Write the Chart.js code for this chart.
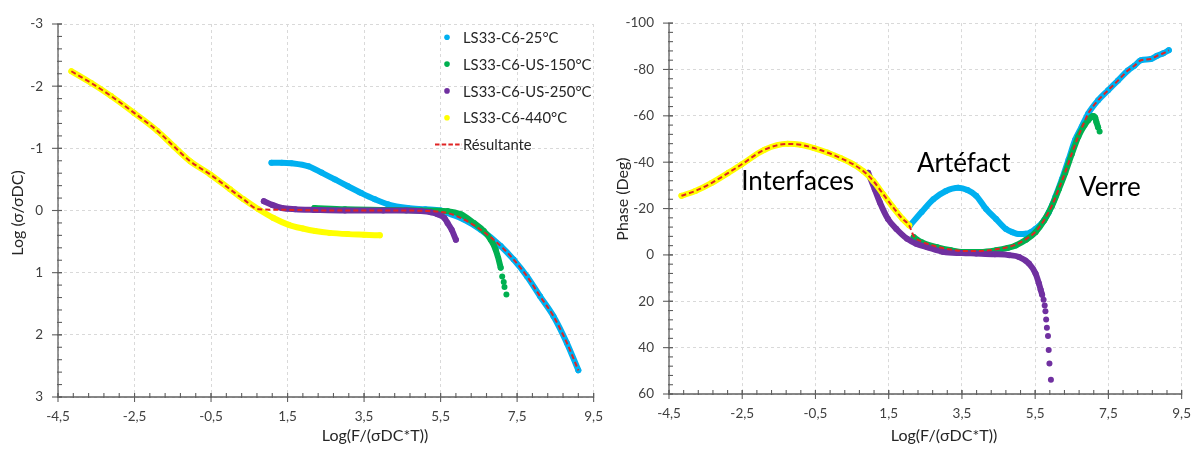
<!DOCTYPE html>
<html><head><meta charset="utf-8">
<script src="https://cdn.jsdelivr.net/npm/chart.js@4.4.1/dist/chart.umd.min.js"></script>
<style>
html,body{margin:0;padding:0;background:#fff;}
#wrap{position:relative;width:1203px;height:449px;overflow:hidden;background:#fff;}
#c1{position:absolute;left:0;top:0;}
#c2{position:absolute;left:600px;top:0;}
</style></head><body>
<div id="wrap"><canvas id="c1" width="615" height="449"></canvas><canvas id="c2" width="603" height="449"></canvas></div>
<script>
// ---------- tick labels ----------
const xTickValues = [-4.5, -2.5, -0.5, 1.5, 3.5, 5.5, 7.5, 9.5];
const xTickLabels = ['-4,5', '-2,5', '-0,5', '1,5', '3,5', '5,5', '7,5', '9,5'];
const condTickValues = [-3, -2, -1, 0, 1, 2, 3];
const condTickLabels = ['-3', '-2', '-1', '0', '1', '2', '3'];
const phaseTickValues = [-100, -80, -60, -40, -20, 0, 20, 40, 60];
const phaseTickLabels = ['-100', '-80', '-60', '-40', '-20', '0', '20', '40', '60'];

// ---------- series ----------
const seriesNames = ['LS33-C6-25°C', 'LS33-C6-US-150°C', 'LS33-C6-US-250°C', 'LS33-C6-440°C', 'Résultante'];
const annotationLabels = ['Interfaces', 'Artéfact', 'Verre'];
const xTitle = 'Log(F/(σDC*T))';
const condTitle = 'Log (σ/σDC)';
const phaseTitle = 'Phase (Deg)';

// Left chart: Log(sigma/sigmaDC)
const cond25_x = [1.08, 1.35, 1.6, 2.05, 2.39, 2.74, 3.08, 3.43, 3.78, 4.12, 4.64, 5.1, 5.5, 5.68, 6.11, 6.55, 7.07, 7.41, 7.76, 8.1, 8.45, 8.8, 9.10];
const cond25_y = [-0.77, -0.77, -0.76, -0.71, -0.61, -0.50, -0.39, -0.28, -0.18, -0.10, -0.04, -0.02, 0.0, 0.04, 0.145, 0.31, 0.57, 0.79, 1.06, 1.38, 1.70, 2.13, 2.57];

const cond150_x = [2.2, 3.0, 4.0, 5.0, 5.68, 6.03, 6.37, 6.63, 6.81, 6.94, 7.07, 7.11, 7.15, 7.17, 7.22];
const cond150_y = [-0.04, -0.02, -0.01, 0.0, 0.01, 0.06, 0.20, 0.33, 0.47, 0.63, 0.92, 1.06, 1.15, 1.23, 1.35];

const cond250_x = [0.88, 1.1, 1.35, 1.7, 2.2, 3.0, 4.0, 4.6, 4.99, 5.25, 5.42, 5.6, 5.68, 5.79, 5.90];
const cond250_y = [-0.15, -0.09, -0.04, -0.02, -0.01, 0.0, 0.0, 0.0, 0.01, 0.03, 0.06, 0.12, 0.20, 0.31, 0.47];

const cond440_x = [-4.15, -3.63, -3.11, -2.51, -1.90, -1.47, -1.04, -0.52, 0.0, 0.35, 0.74, 1.13, 1.53, 1.9, 2.22, 2.6, 3.08, 3.5, 3.91];
const cond440_y = [-2.24, -2.05, -1.84, -1.57, -1.28, -1.03, -0.79, -0.58, -0.34, -0.18, -0.02, 0.12, 0.23, 0.29, 0.33, 0.36, 0.38, 0.39, 0.40];

const condFit_x = [-4.15, -3.63, -3.11, -2.51, -1.90, -1.47, -1.04, -0.52, 0.0, 0.35, 0.74, 1.5, 2.5, 3.5, 4.5, 5.2, 5.68, 6.11, 6.55, 7.07, 7.41, 7.76, 8.1, 8.45, 8.8, 9.10];
const condFit_y = [-2.24, -2.05, -1.84, -1.57, -1.28, -1.03, -0.79, -0.58, -0.34, -0.18, -0.02, -0.01, 0.0, 0.0, 0.0, 0.01, 0.04, 0.145, 0.31, 0.57, 0.79, 1.06, 1.38, 1.70, 2.13, 2.57];

// Right chart: Phase (Deg)
const phase25_x = [2.09, 2.4, 2.72, 3.05, 3.40, 3.65, 3.89, 4.16, 4.43, 4.70, 4.88, 5.05, 5.24, 5.38, 5.51, 5.70, 5.87, 6.05, 6.23, 6.41, 6.59, 6.77, 6.95, 7.22, 7.49, 7.76, 8.03, 8.21, 8.39, 8.66, 8.83, 9.0, 9.15];
const phase25_y = [-12.9, -18.5, -24.0, -27.5, -29.0, -28.0, -25.5, -19.8, -15.5, -11.2, -9.8, -9.0, -9.1, -9.8, -11.2, -14.0, -18.3, -25.0, -32.6, -41.0, -49.6, -55.3, -61.0, -66.7, -71.0, -75.2, -79.5, -81.6, -84.0, -84.5, -85.9, -87.0, -88.3];

const phase150_x = [2.18, 2.4, 2.81, 3.2, 3.53, 4.0, 4.43, 4.75, 4.97, 5.25, 5.51, 5.75, 5.96, 6.15, 6.32, 6.5, 6.68, 6.85, 6.95, 7.08, 7.14, 7.17, 7.22, 7.26];
const phase150_y = [-7.7, -5.5, -3.4, -2.0, -1.3, -1.3, -2.0, -3.0, -4.1, -6.5, -9.8, -15.0, -21.2, -28.5, -35.4, -43.5, -51.1, -56.0, -58.1, -59.9, -59.2, -57.4, -55.0, -53.2];

const phase250_x = [0.94, 1.12, 1.26, 1.48, 1.71, 2.0, 2.25, 2.54, 2.99, 3.5, 3.89, 4.4, 4.79, 5.06, 5.33, 5.51, 5.60, 5.65, 5.69, 5.73, 5.76, 5.78, 5.80, 5.82, 5.85, 5.87, 5.89, 5.93];
const phase250_y = [-35.4, -28.3, -22.6, -15.5, -11.2, -7.0, -4.8, -3.4, -1.3, -0.8, -0.6, -0.3, 0.1, 0.9, 3.7, 8.0, 12.2, 15.0, 17.2, 19.3, 21.8, 24.3, 27.9, 31.4, 35.0, 41.0, 46.8, 53.9];

const phase440_x = [-4.16, -3.78, -3.33, -2.88, -2.52, -1.89, -1.26, -0.90, -0.54, -0.18, 0.18, 0.54, 0.81, 1.08, 1.35, 1.62, 1.88, 2.06];
const phase440_y = [-25.5, -27.6, -31.1, -35.4, -39.0, -45.4, -47.9, -47.5, -46.1, -44.2, -41.8, -39.0, -36.1, -31.9, -26.2, -20.5, -15.5, -12.7];

const phaseFit_x = [-4.16, -3.78, -3.33, -2.88, -2.52, -1.89, -1.26, -0.90, -0.54, -0.18, 0.18, 0.54, 0.81, 1.08, 1.35, 1.62, 1.88, 2.06, 2.18, 2.4, 2.81, 3.2, 3.53, 4.0, 4.43, 4.75, 4.97, 5.25, 5.51, 5.75, 5.96, 6.15, 6.32, 6.5, 6.68, 6.85, 6.95, 7.22, 7.49, 7.76, 8.03, 8.21, 8.39, 8.66, 8.83, 9.0, 9.15];
const phaseFit_y = [-25.5, -27.6, -31.1, -35.4, -39.0, -45.4, -47.9, -47.5, -46.1, -44.2, -41.8, -39.0, -36.1, -31.9, -26.2, -20.5, -15.5, -12.7, -8.2, -5.8, -3.6, -2.3, -1.7, -1.7, -2.4, -3.3, -4.4, -6.8, -10.0, -15.2, -21.4, -28.7, -35.6, -43.7, -51.3, -57.5, -61.0, -66.7, -71.0, -75.2, -79.5, -81.6, -84.0, -84.5, -85.9, -87.0, -88.3];

// ---------- styles ----------
const COLORS = ['#00B0F0', '#00B050', '#7030A0', '#FFFF00', '#E02424'];
const FONT = 'Lato, "Liberation Sans", sans-serif';

function pts(xs, ys) { return xs.map((x, i) => ({ x: x, y: ys[i] })); }

function band(label, xs, ys, color, order, tailFrom) {
  return {
    label: label, data: pts(xs, ys), order: order,
    showLine: true, borderColor: color, backgroundColor: color,
    pointBackgroundColor: color, pointBorderWidth: 0,
    pointRadius: 3, pointHoverRadius: 3,
    borderWidth: 6, borderCapStyle: 'round', borderJoinStyle: 'round',
    cubicInterpolationMode: 'monotone',
    segment: {
      borderColor: ctx => (tailFrom != null && ctx.p0DataIndex >= tailFrom) ? 'rgba(0,0,0,0)' : undefined
    }
  };
}
function fit(label, xs, ys, color) {
  return {
    label: label, data: pts(xs, ys), order: 0,
    showLine: true, borderColor: color, backgroundColor: color,
    pointRadius: 0, pointHoverRadius: 0, borderWidth: 2, borderDash: [5, 3],
    cubicInterpolationMode: 'monotone'
  };
}

function makeDecor(cfg) {
  return {
    id: 'decor',
    afterDraw(chart) {
      const ctx = chart.ctx, ca = chart.chartArea, sx = chart.scales.x, sy = chart.scales.y;
      ctx.save();
      const L = (x1, y1, x2, y2) => { ctx.beginPath(); ctx.moveTo(x1, y1); ctx.lineTo(x2, y2); ctx.stroke(); };
      ctx.setLineDash([]);
      ctx.strokeStyle = '#5f5f5f'; ctx.lineWidth = 1.3;
      L(ca.left, ca.top, ca.left, ca.bottom + 0.5);
      L(ca.left, ca.bottom, ca.right, ca.bottom);
      ctx.lineWidth = 1.1;
      const nx = Math.round((sx.max - sx.min) / cfg.xMinor);
      for (let i = 0; i <= nx; i++) { const p = sx.getPixelForValue(sx.min + i * cfg.xMinor); L(p, ca.bottom - 4, p, ca.bottom + 1); }
      sx.ticks.forEach(t => { const p = sx.getPixelForValue(t.value); L(p, ca.bottom - 4, p, ca.bottom + 5); });
      const ny = Math.round((sy.max - sy.min) / cfg.yMinor);
      for (let i = 0; i <= ny; i++) { const p = sy.getPixelForValue(sy.min + i * cfg.yMinor); L(ca.left - 1, p, ca.left + 4, p); }
      sy.ticks.forEach(t => { const p = sy.getPixelForValue(t.value); L(ca.left - 6, p, ca.left + 4, p); });

      // axis titles
      ctx.fillStyle = '#262626';
      ctx.font = '16px ' + FONT;
      ctx.textAlign = 'center'; ctx.textBaseline = 'middle';
      ctx.fillText(cfg.xTitle, cfg.xTitlePos[0], cfg.xTitlePos[1]);
      ctx.save();
      ctx.translate(cfg.yTitlePos[0], cfg.yTitlePos[1]);
      ctx.rotate(-Math.PI / 2);
      ctx.fillText(cfg.yTitle, 0, 0);
      ctx.restore();

      // legend
      if (cfg.legend) {
        const lg = cfg.legend;
        lg.items.forEach((it, i) => {
          const cy = lg.top + i * lg.step;
          if (it.line) {
            ctx.strokeStyle = it.color; ctx.lineWidth = 2; ctx.setLineDash([4.5, 2.2]);
            L(lg.lineX0, cy, lg.lineX1, cy);
            ctx.setLineDash([]);
          } else {
            ctx.fillStyle = it.color;
            ctx.beginPath(); ctx.arc(lg.dotX, cy, 2.8, 0, Math.PI * 2); ctx.fill();
          }
          ctx.fillStyle = '#262626';
          ctx.font = lg.font;
          ctx.textAlign = 'left'; ctx.textBaseline = 'middle';
          ctx.fillText(it.text, lg.textX, cy + 1);
        });
      }
      // annotations
      if (cfg.notes) {
        ctx.fillStyle = '#000';
        ctx.font = cfg.noteFont;
        ctx.textAlign = 'left'; ctx.textBaseline = 'alphabetic';
        cfg.notes.forEach(n => {
          ctx.fillText(n.text, sx.getPixelForValue(n.x), sy.getPixelForValue(n.y));
        });
      }
      ctx.restore();
    }
  };
}

function scalesFor(yMin, yMax, yVals, yLabels, yWidth, xHeight) {
  return {
    x: {
      type: 'linear', min: -4.5, max: 9.5,
      afterBuildTicks: s => { s.ticks = xTickValues.map(v => ({ value: v })); },
      afterFit: s => { s.height = xHeight; },
      ticks: { autoSkip: false, maxRotation: 0, minRotation: 0, padding: 12,
        font: { family: FONT, size: 13.5 }, color: '#404040',
        callback: (v, i) => xTickLabels[i] },
      grid: { color: '#d9d9d9', lineWidth: 1, drawTicks: false },
      border: { display: false, dash: [3, 3] }
    },
    y: {
      type: 'linear', min: yMin, max: yMax, reverse: true,
      afterBuildTicks: s => { s.ticks = yVals.map(v => ({ value: v })); },
      afterFit: s => { s.width = yWidth; },
      ticks: { autoSkip: false, padding: 15,
        font: { family: FONT, size: 13.5 }, color: '#404040',
        callback: (v, i) => yLabels[i] },
      grid: { color: '#d9d9d9', lineWidth: 1, drawTicks: false },
      border: { display: false, dash: [3, 3] }
    }
  };
}

const common = {
  responsive: false, animation: false, events: [],
  plugins: { legend: { display: false }, tooltip: { enabled: false } }
};

// ---------- left chart ----------
new Chart(document.getElementById('c1'), {
  type: 'scatter',
  data: {
    datasets: [
      band(seriesNames[0], cond25_x, cond25_y, COLORS[0], 5, null),
      band(seriesNames[1], cond150_x, cond150_y, COLORS[1], 4, 10),
      band(seriesNames[2], cond250_x, cond250_y, COLORS[2], 3, null),
      band(seriesNames[3], cond440_x, cond440_y, COLORS[3], 2, null),
      fit(seriesNames[4], condFit_x, condFit_y, COLORS[4])
    ]
  },
  options: Object.assign({}, common, {
    layout: { padding: { left: 0, top: 24, right: 19, bottom: 0 } },
    scales: scalesFor(-3, 3, condTickValues, condTickLabels, 58, 52)
  }),
  plugins: [makeDecor({
    xMinor: 0.4, yMinor: 0.2,
    xTitle: xTitle, xTitlePos: [375, 436],
    yTitle: condTitle, yTitlePos: [18, 213],
    legend: {
      top: 37.3, step: 26.8, dotX: 447, lineX0: 435, lineX1: 462, textX: 463,
      font: '14.8px ' + FONT,
      items: seriesNames.map((t, i) => ({ text: t, color: COLORS[i], line: i === 4 }))
    }
  })]
});

// ---------- right chart ----------
new Chart(document.getElementById('c2'), {
  type: 'scatter',
  data: {
    datasets: [
      band(seriesNames[0], phase25_x, phase25_y, COLORS[0], 5, null),
      band(seriesNames[1], phase150_x, phase150_y, COLORS[1], 4, 22),
      band(seriesNames[2], phase250_x, phase250_y, COLORS[2], 3, 18),
      band(seriesNames[3], phase440_x, phase440_y, COLORS[3], 2, null),
      fit(seriesNames[4], phaseFit_x, phaseFit_y, COLORS[4])
    ]
  },
  options: Object.assign({}, common, {
    layout: { padding: { left: 0, top: 19, right: 15, bottom: 0 } },
    scales: scalesFor(-100, 60, phaseTickValues, phaseTickLabels, 69, 55)
  }),
  plugins: [makeDecor({
    xMinor: 0.4, yMinor: 4,
    xTitle: xTitle, xTitlePos: [344, 436],
    yTitle: phaseTitle, yTitlePos: [23, 199],
    noteFont: '26px ' + FONT,
    notes: [
      { text: annotationLabels[0], x: -2.53, y: -28.2 },
      { text: annotationLabels[1], x: 2.27, y: -35.7 },
      { text: annotationLabels[2], x: 6.70, y: -25.2 }
    ]
  })]
});
</script>
</body></html>
